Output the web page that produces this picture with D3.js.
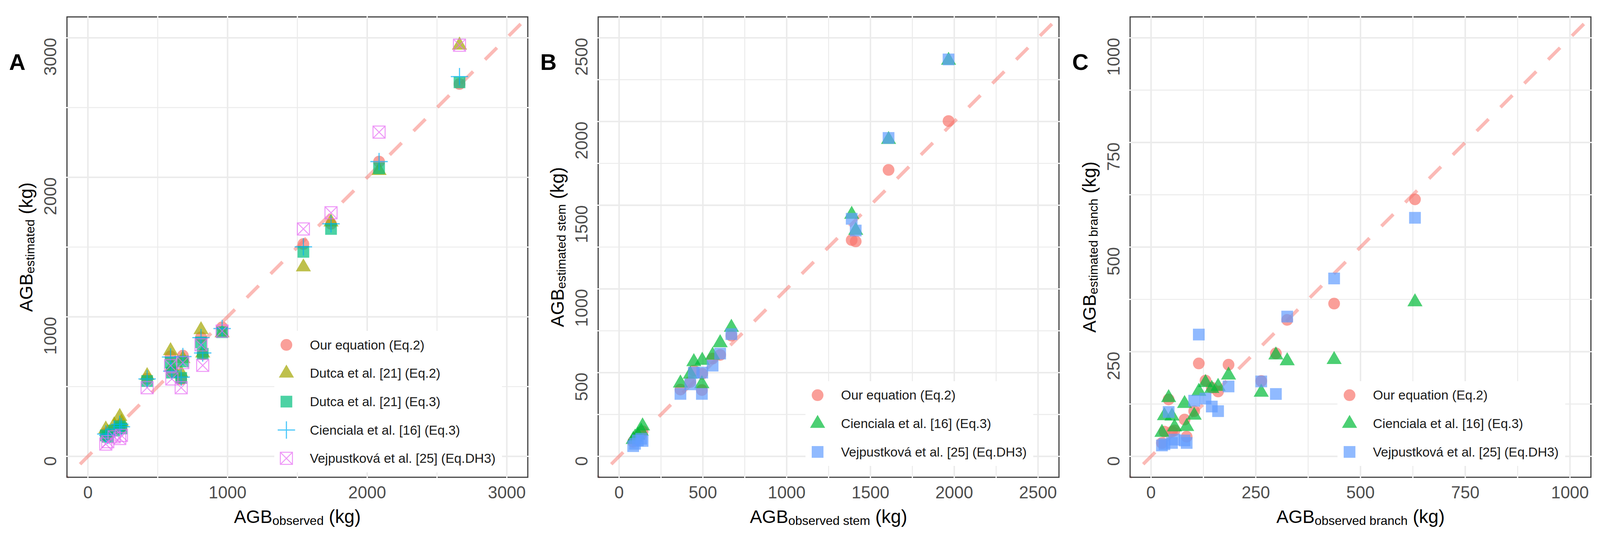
<!DOCTYPE html>
<html>
<head>
<meta charset="utf-8">
<script src="https://cdn.jsdelivr.net/npm/d3@7"></script>
<style>
    html, body { margin: 0; padding: 0; width: 100%; height: 100%; overflow: hidden; background: #ffffff; }
    svg { display: block; font-family: "Liberation Sans", Arial, Helvetica, sans-serif; }
    text { white-space: pre; }
</style>
</head>
<body>
<svg id="chart"></svg>
<script>
var width = 4229;
var height = 1398;

// panel A - total AGB
var obsA = [128, 142, 188, 228, 240, 424, 592, 601, 668, 680, 810, 822, 961, 1543, 1741, 2085, 2661];
var ourA = [165, 150, 190, 222, 205, 556, 717, 606, 552, 722, 853, 731, 925, 1522, 1667, 2113, 2669];
var dutca2A = [195, 170, 225, 285, 245, 578, 757, 640, 595, 700, 907, 740, 885, 1357, 1679, 2048, 2947];
var dutca3A = [150, 140, 185, 215, 200, 540, 672, 600, 562, 680, 817, 735, 890, 1466, 1630, 2065, 2681];
var cienA = [160, 150, 195, 230, 212, 555, 712, 611, 568, 715, 851, 741, 916, 1502, 1667, 2113, 2722];
var vejpA = [88, 105, 140, 128, 150, 492, 650, 555, 492, 672, 799, 652, 898, 1630, 1746, 2324, 2947];
var ticksA = [0, 1000, 2000, 3000];
var minorA = [500, 1500, 2500];

// panel B - stem
var obsB = [84, 95, 112, 132, 140, 366, 425, 446, 494, 496, 558, 603, 670, 1388, 1412, 1608, 1966];
var ourB = [87, 100, 120, 132, 150, 399, 444, 512, 396, 494, 584, 606, 721, 1292, 1284, 1711, 2003];
var cienB = [100, 114, 125, 150, 181, 437, 490, 565, 433, 573, 604, 678, 770, 1445, 1349, 1892, 2365];
var vejpB = [61, 75, 95, 105, 92, 373, 430, 500, 373, 500, 542, 614, 730, 1419, 1349, 1902, 2371];
var ticksB = [0, 500, 1000, 1500, 2000, 2500];
var minorB = [250, 750, 1250, 1750, 2250];

// panel C - branches
var obsC = [26, 32, 42, 50, 56, 80, 85, 103, 114, 130, 145, 160, 185, 263, 298, 325, 437, 630];
var ourC = [32, 59, 136, 59, 62, 88, 47, 108, 222, 181, 164, 155, 219, 180, 246, 326, 365, 614];
var cienC = [57, 97, 140, 96, 70, 126, 71, 98, 155, 176, 162, 167, 194, 153, 242, 228, 231, 369];
var vejpC = [26, 29, 106, 32, 40, 38, 32, 133, 291, 138, 119, 108, 167, 179, 149, 334, 425, 570];
var ticksC = [0, 250, 500, 750, 1000];
var minorC = [125, 375, 625, 875];

var labelsA = ['Our equation (Eq.2)', 'Dutca et al. [21] (Eq.2)', 'Dutca et al. [21] (Eq.3)',
    'Cienciala et al. [16] (Eq.3)', 'Vejpustková et al. [25] (Eq.DH3)'];
var labelsBC = ['Our equation (Eq.2)', 'Cienciala et al. [16] (Eq.3)', 'Vejpustková et al. [25] (Eq.DH3)'];

var colorsA = ['#F8766D', '#A3A500', '#00BF7D', '#00B0F6', '#E76BF3'];
var colorsBC = ['#F8766D', '#00BA38', '#619CFF'];
var shapesA = ['circle', 'triangle', 'square', 'plus', 'boxcross'];
var shapesBC = ['circle', 'triangle', 'square'];

var panelTop = 22;
var panelW = 1218;
var panelH = 1217;
var pointAlpha = 0.7;

// scale to whatever the viewport really is
var svg = d3.select('#chart')
    .attr('viewBox', '0 0 ' + width + ' ' + height)
    .attr('preserveAspectRatio', 'xMidYMid meet')
    .style('width', '100vw')
    .style('height', '100vh');

svg.append('rect')
    .attr('width', width)
    .attr('height', height)
    .attr('fill', '#ffffff');

function shapePath(shape) {
    if (shape == 'circle') {
        return 'M15.5,0A15.5,15.5 0 1,1 -15.5,0A15.5,15.5 0 1,1 15.5,0Z';
    }
    if (shape == 'triangle') {
        return 'M0,-23L20,11.5L-20,11.5Z';
    }
    if (shape == 'square') {
        return 'M-15.5,-15.5H15.5V15.5H-15.5Z';
    }
    if (shape == 'plus') {
        return 'M-23,0H23M0,-23V23';
    }
    return 'M-16,-16H16V16H-16ZM-16,-16L16,16M16,-16L-16,16';
}

function isStroked(shape) {
    return shape == 'plus' || shape == 'boxcross';
}

function styleShape(sel, shape, color) {
    if (isStroked(shape)) {
        sel.attr('fill', 'none')
            .attr('stroke', color)
            .attr('stroke-opacity', pointAlpha)
            .attr('stroke-width', shape == 'plus' ? 3 : 2.6);
    }
    else {
        sel.attr('fill', color)
            .attr('fill-opacity', pointAlpha)
            .attr('stroke', 'none');
    }
}

function axisTitle(g, sub) {
    var t = g.append('text')
        .attr('text-anchor', 'middle')
        .attr('fill', '#000000');
    t.append('tspan').attr('font-size', 48).text('AGB');
    t.append('tspan').attr('font-size', 33).attr('dy', 5).text(sub);
    t.append('tspan').attr('font-size', 49).attr('dy', -5).text(' (kg)');
}

function drawPanel(cfg) {
    var left = cfg.left;
    var bottom = panelTop + panelH;
    var lo = -0.05 * cfg.max;
    var hi = 1.05 * cfg.max;

    var x = d3.scaleLinear().domain([lo, hi]).range([left, left + panelW]);
    var y = d3.scaleLinear().domain([lo, hi]).range([bottom, panelTop]);

    var g = svg.append('g');

    // grid
    var grid = g.append('g').attr('stroke', '#EBEBEB');
    grid.selectAll('line.minor-x')
        .data(cfg.minor)
        .enter()
        .append('line')
        .attr('x1', function (d) { return x(d); })
        .attr('x2', function (d) { return x(d); })
        .attr('y1', panelTop)
        .attr('y2', bottom)
        .attr('stroke-width', 2.5);
    grid.selectAll('line.minor-y')
        .data(cfg.minor)
        .enter()
        .append('line')
        .attr('y1', function (d) { return y(d); })
        .attr('y2', function (d) { return y(d); })
        .attr('x1', left)
        .attr('x2', left + panelW)
        .attr('stroke-width', 2.5);
    grid.selectAll('line.major-x')
        .data(cfg.ticks)
        .enter()
        .append('line')
        .attr('x1', function (d) { return x(d); })
        .attr('x2', function (d) { return x(d); })
        .attr('y1', panelTop)
        .attr('y2', bottom)
        .attr('stroke-width', 4);
    grid.selectAll('line.major-y')
        .data(cfg.ticks)
        .enter()
        .append('line')
        .attr('y1', function (d) { return y(d); })
        .attr('y2', function (d) { return y(d); })
        .attr('x1', left)
        .attr('x2', left + panelW)
        .attr('stroke-width', 4);

    // 1:1 line
    g.append('line')
        .attr('x1', x(lo))
        .attr('y1', y(lo))
        .attr('x2', x(hi))
        .attr('y2', y(hi))
        .attr('stroke', '#F8766D')
        .attr('stroke-opacity', 0.5)
        .attr('stroke-width', 9)
        .attr('stroke-dasharray', '44.5,44.5')
        .attr('stroke-dashoffset', 40);

    // points, one layer per series
    cfg.series.forEach(function (vals, s) {
        var pts = cfg.obs.map(function (o, i) {
            return { x: o, y: vals[i] };
        });
        var sel = g.append('g').selectAll('path')
            .data(pts)
            .enter()
            .append('path')
            .attr('d', shapePath(cfg.shapes[s]))
            .attr('transform', function (d) {
                return 'translate(' + x(d.x) + ',' + y(d.y) + ')';
            });
        styleShape(sel, cfg.shapes[s], cfg.colors[s]);
    });

    // legend
    var rows = cfg.labels.map(function (l, i) {
        return cfg.legendTop + i * 75;
    });
    var leg = g.append('g');
    leg.append('rect')
        .attr('x', left + 548)
        .attr('y', rows[0] - 37)
        .attr('width', 602)
        .attr('height', rows[rows.length - 1] - rows[0] + 74)
        .attr('fill', '#ffffff');
    cfg.labels.forEach(function (label, i) {
        var key = leg.append('path')
            .attr('d', shapePath(cfg.shapes[i]))
            .attr('transform', 'translate(' + (left + 580) + ',' + rows[i] + ')');
        styleShape(key, cfg.shapes[i], cfg.colors[i]);
        leg.append('text')
            .attr('x', left + 642)
            .attr('y', rows[i] + 12)
            .attr('font-size', 34.5)
            .attr('fill', '#1a1a1a')
            .text(label);
    });

    // border with small white breaks where the grid meets it
    g.append('rect')
        .attr('x', left)
        .attr('y', panelTop)
        .attr('width', panelW)
        .attr('height', panelH)
        .attr('fill', 'none')
        .attr('stroke', '#3d3d3d')
        .attr('stroke-width', 3);
    var breaks = cfg.ticks.concat(cfg.minor);
    var gaps = g.append('g').attr('stroke', '#ffffff').attr('stroke-width', 3);
    breaks.forEach(function (v) {
        gaps.append('line').attr('x1', x(v)).attr('x2', x(v)).attr('y1', panelTop - 3).attr('y2', panelTop + 3);
        gaps.append('line').attr('x1', x(v)).attr('x2', x(v)).attr('y1', bottom - 3).attr('y2', bottom + 3);
        gaps.append('line').attr('y1', y(v)).attr('y2', y(v)).attr('x1', left - 3).attr('x2', left + 3);
        gaps.append('line').attr('y1', y(v)).attr('y2', y(v)).attr('x1', left + panelW - 3).attr('x2', left + panelW + 3);
    });

    // tick labels
    g.selectAll('text.x-tick')
        .data(cfg.ticks)
        .enter()
        .append('text')
        .attr('x', function (d) { return x(d); })
        .attr('y', bottom + 56)
        .attr('text-anchor', 'middle')
        .attr('font-size', 45)
        .attr('fill', '#4D4D4D')
        .text(function (d) { return d; });
    g.selectAll('text.y-tick')
        .data(cfg.ticks)
        .enter()
        .append('text')
        .attr('transform', function (d) {
            return 'translate(' + (left - 28) + ',' + y(d) + ') rotate(-90)';
        })
        .attr('text-anchor', 'end')
        .attr('font-size', 45)
        .attr('fill', '#4D4D4D')
        .text(function (d) { return d; });

    // axis titles
    axisTitle(g.append('g').attr('transform', 'translate(' + (left + panelW / 2) + ',' + (bottom + 121) + ')'), cfg.xSub);
    axisTitle(g.append('g').attr('transform', 'translate(' + (left - 91) + ',' + (panelTop + panelH / 2) + ') rotate(-90)'), cfg.ySub);

    // panel letter
    g.append('text')
        .attr('x', left - 153)
        .attr('y', 162)
        .attr('font-size', 60)
        .attr('font-weight', 'bold')
        .attr('fill', '#000000')
        .text(cfg.letter);
}

drawPanel({
    letter: 'A', left: 177, max: 3000,
    ticks: ticksA, minor: minorA,
    obs: obsA, series: [ourA, dutca2A, dutca3A, cienA, vejpA],
    labels: labelsA, colors: colorsA, shapes: shapesA,
    legendTop: 889,
    xSub: 'observed', ySub: 'estimated'
});

drawPanel({
    letter: 'B', left: 1581, max: 2500,
    ticks: ticksB, minor: minorB,
    obs: obsB, series: [ourB, cienB, vejpB],
    labels: labelsBC, colors: colorsBC, shapes: shapesBC,
    legendTop: 1022,
    xSub: 'observed stem', ySub: 'estimated stem'
});

drawPanel({
    letter: 'C', left: 2987, max: 1000,
    ticks: ticksC, minor: minorC,
    obs: obsC, series: [ourC, cienC, vejpC],
    labels: labelsBC, colors: colorsBC, shapes: shapesBC,
    legendTop: 1022,
    xSub: 'observed branch', ySub: 'estimated branch'
});
</script>
</body>
</html>
